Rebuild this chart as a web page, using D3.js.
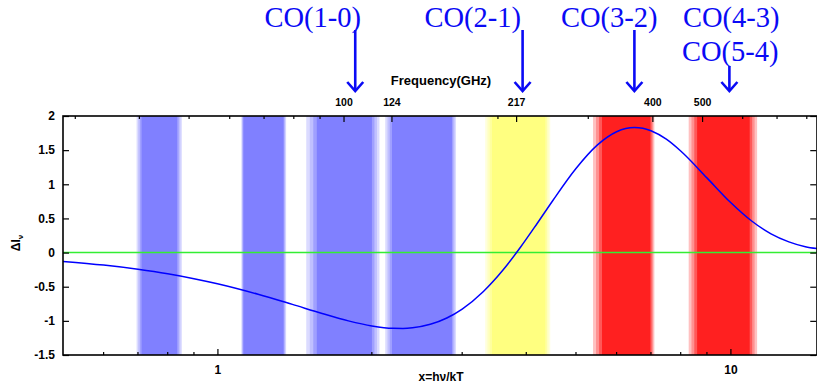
<!DOCTYPE html>
<html>
<head>
<meta charset="utf-8">
<script src="https://cdn.jsdelivr.net/npm/d3@7"></script>
<style>
  body { margin: 0; background: #fff; }
  .tick text { font-family: "Liberation Sans", Arial, sans-serif; font-weight: bold; fill: #000; }
</style>
</head>
<body>
<svg id="chart" width="817" height="383"></svg>
<script>
// x = h nu / kT
var xData = [0.5, 0.6, 0.7, 0.8, 0.9, 1.0, 1.2, 1.4, 1.6, 1.8, 2.0, 2.2, 2.3, 2.4, 2.6, 2.8, 3.0, 3.3, 3.6, 3.9,
             4.2, 4.5, 5.0, 5.5, 6.0, 6.25, 6.5, 6.75, 7.0, 7.5, 8.0, 9.0, 10, 11, 12, 13, 14, 14.75];
var dI = [-0.129, -0.183, -0.244, -0.310, -0.382, -0.456, -0.610, -0.759, -0.892, -1.000, -1.074, -1.109, -1.111,
          -1.102, -1.051, -0.958, -0.827, -0.569, -0.259, 0.081, 0.426, 0.756, 1.231, 1.573, 1.769, 1.816, 1.831,
          1.820, 1.784, 1.660, 1.487, 1.094, 0.736, 0.462, 0.275, 0.157, 0.086, 0.058];

// frequency bands (GHz): soft outer edge and solid core
var bandOuterLo = [39.5, 63.2, 84.6, 120.6, 188.9, 306.5, 470.8];
var bandOuterHi = [48.4, 77.3, 117.5, 165.7, 252.9, 403.6, 640.1];
var bandCoreLo  = [40.4, 63.8, 88.7, 124.3, 194.7, 319.1, 489.0];
var bandCoreHi  = [47.4, 76.4, 113.6, 162.7, 247.3, 396.4, 619.1];
var bandColor   = ["#8080ff", "#8080ff", "#8080ff", "#8080ff", "#ffff80", "#ff2020", "#ff2020"];

var yTicks = [-1.5, -1, -0.5, 0, 0.5, 1, 1.5, 2];
var xTicks = [1, 10];
var xMinor = [0.6, 0.7, 0.8, 0.9, 2, 3, 4, 5, 6, 7, 8, 9];
var fTicks = [100, 124, 217, 400, 500];
var fMinor = [30, 40, 50, 60, 70, 80, 90, 200, 300, 600, 700, 800];

var coArrowGHz = [105.4, 223.4, 369, 565.2];

var GHZ_PER_X = 56.78;   // kT/h for T = 2.725 K

var svg = d3.select("#chart");
var pL = 63, pR = 817, pT = 116, pB = 355;

var x = d3.scaleLog().domain([0.5, 14.75]).range([pL, pR]);
var xf = d3.scaleLog().domain([0.5 * GHZ_PER_X, 14.75 * GHZ_PER_X]).range([pL, pR]);
var y = d3.scaleLinear().domain([-1.5, 2]).range([pB, pT]);

svg.append("defs").append("clipPath").attr("id", "clip")
  .append("rect").attr("x", pL).attr("y", pT).attr("width", pR - pL).attr("height", pB - pT);

var plot = svg.append("g").attr("clip-path", "url(#clip)");

// bands, drawn as stacked steps from pale edge to core
var steps = [0.28, 0.5, 0.75, 1];
bandColor.forEach(function(col, i){
  var oLo = xf(bandOuterLo[i]), oHi = xf(bandOuterHi[i]);
  var cLo = xf(bandCoreLo[i]), cHi = xf(bandCoreHi[i]);
  steps.forEach(function(t, k){
    var f = k / (steps.length - 1);
    var x0 = oLo + (cLo - oLo) * f, x1 = oHi + (cHi - oHi) * f;
    plot.append("rect")
      .attr("x", x0).attr("y", pT).attr("width", x1 - x0).attr("height", pB - pT)
      .attr("fill", d3.interpolateRgb("#ffffff", col)(t));
  });
});

// zero line
plot.append("line")
  .attr("x1", pL).attr("x2", pR).attr("y1", y(0)).attr("y2", y(0))
  .attr("stroke", "#33ee33").attr("stroke-width", 1.5);

// curve
var pts = xData.map(function(v, i){ return [v, dI[i]]; });
plot.append("path")
  .datum(pts)
  .attr("fill", "none").attr("stroke", "#0000ff").attr("stroke-width", 1.5)
  .attr("d", d3.line().x(function(d){ return x(d[0]); }).y(function(d){ return y(d[1]); }).curve(d3.curveMonotoneX));

// axes
var fmt = function(d){ return String(d); };

var gl = svg.append("g").attr("transform", "translate(" + pL + ",0)")
  .call(d3.axisLeft(y).tickValues(yTicks).tickFormat(fmt).tickSizeInner(-6).tickSizeOuter(0).tickPadding(8));
var gr = svg.append("g").attr("transform", "translate(" + (pR - 0.75) + ",0)")
  .call(d3.axisRight(y).tickValues(yTicks).tickFormat("").tickSizeInner(-6).tickSizeOuter(0));
var gb = svg.append("g").attr("transform", "translate(0," + pB + ")")
  .call(d3.axisBottom(x).tickValues(xTicks).tickFormat(fmt).tickSizeInner(-6).tickSizeOuter(0).tickPadding(10));
var gt = svg.append("g").attr("transform", "translate(0," + pT + ")")
  .call(d3.axisTop(xf).tickValues(fTicks).tickFormat(fmt).tickSizeInner(-6).tickSizeOuter(0).tickPadding(10));

[gl, gr, gb, gt].forEach(function(g){
  g.select(".domain").remove();
  g.selectAll(".tick line").attr("stroke", "#000").attr("stroke-width", 1.2);
});
gl.selectAll(".tick text").style("font-size", "12px");
gb.selectAll(".tick text").style("font-size", "12px");
gt.selectAll(".tick text").style("font-size", "10.5px");

// minor ticks
svg.append("g").selectAll("line").data(xMinor).enter().append("line")
  .attr("x1", function(d){ return x(d); }).attr("x2", function(d){ return x(d); })
  .attr("y1", pB).attr("y2", pB - 3).attr("stroke", "#000").attr("stroke-width", 1.2);
svg.append("g").selectAll("line").data(fMinor).enter().append("line")
  .attr("x1", function(d){ return xf(d); }).attr("x2", function(d){ return xf(d); })
  .attr("y1", pT).attr("y2", pT + 3).attr("stroke", "#000").attr("stroke-width", 1.2);

// frame
svg.append("rect")
  .attr("x", pL).attr("y", pT).attr("width", pR - pL).attr("height", pB - pT)
  .attr("fill", "none").attr("stroke", "#000").attr("stroke-width", 1.6);

// axis titles
svg.append("text").attr("x", 441).attr("y", 85)
  .attr("text-anchor", "middle")
  .style("font-family", "Liberation Sans, Arial, sans-serif").style("font-weight", "bold").style("font-size", "13px")
  .text("Frequency(GHz)");

svg.append("text").attr("x", 441).attr("y", 381)
  .attr("text-anchor", "middle")
  .style("font-family", "Liberation Sans, Arial, sans-serif").style("font-weight", "bold").style("font-size", "12px")
  .text("x=hν/kT");

var yl = svg.append("text").attr("transform", "translate(20,243) rotate(-90)")
  .attr("text-anchor", "middle")
  .style("font-family", "Liberation Sans, Arial, sans-serif").style("font-weight", "bold").style("font-size", "12px");
yl.append("tspan").text("ΔI");
yl.append("tspan").attr("dy", 3).style("font-size", "8px").text("ν");

// CO line annotations
var blue = "#0a0af5";
var serif = "Liberation Serif, Times New Roman, serif";
var arrowTop = [30, 30, 30, 66];
var arrowEnd = 91;

coArrowGHz.forEach(function(f, i){
  var ax = xf(f);
  svg.append("line").attr("x1", ax).attr("x2", ax).attr("y1", arrowTop[i]).attr("y2", arrowEnd - 1)
    .attr("stroke", blue).attr("stroke-width", 2.6);
  svg.append("path")
    .attr("d", "M" + (ax - 8) + "," + (arrowEnd - 9) + "L" + ax + "," + arrowEnd + "L" + (ax + 8) + "," + (arrowEnd - 9))
    .attr("fill", "none").attr("stroke", blue).attr("stroke-width", 2.6);
});

function coText(tx, ty, anchor, s){
  svg.append("text").attr("x", tx).attr("y", ty).attr("text-anchor", anchor)
    .style("font-family", serif).style("font-size", "28.5px").attr("fill", blue)
    .text(s);
}
coText(361, 27, "end", "CO(1-0)");
coText(521, 27, "end", "CO(2-1)");
coText(561, 27, "start", "CO(3-2)");
coText(683, 27, "start", "CO(4-3)");
coText(682, 61, "start", "CO(5-4)");
</script>
</body>
</html>
